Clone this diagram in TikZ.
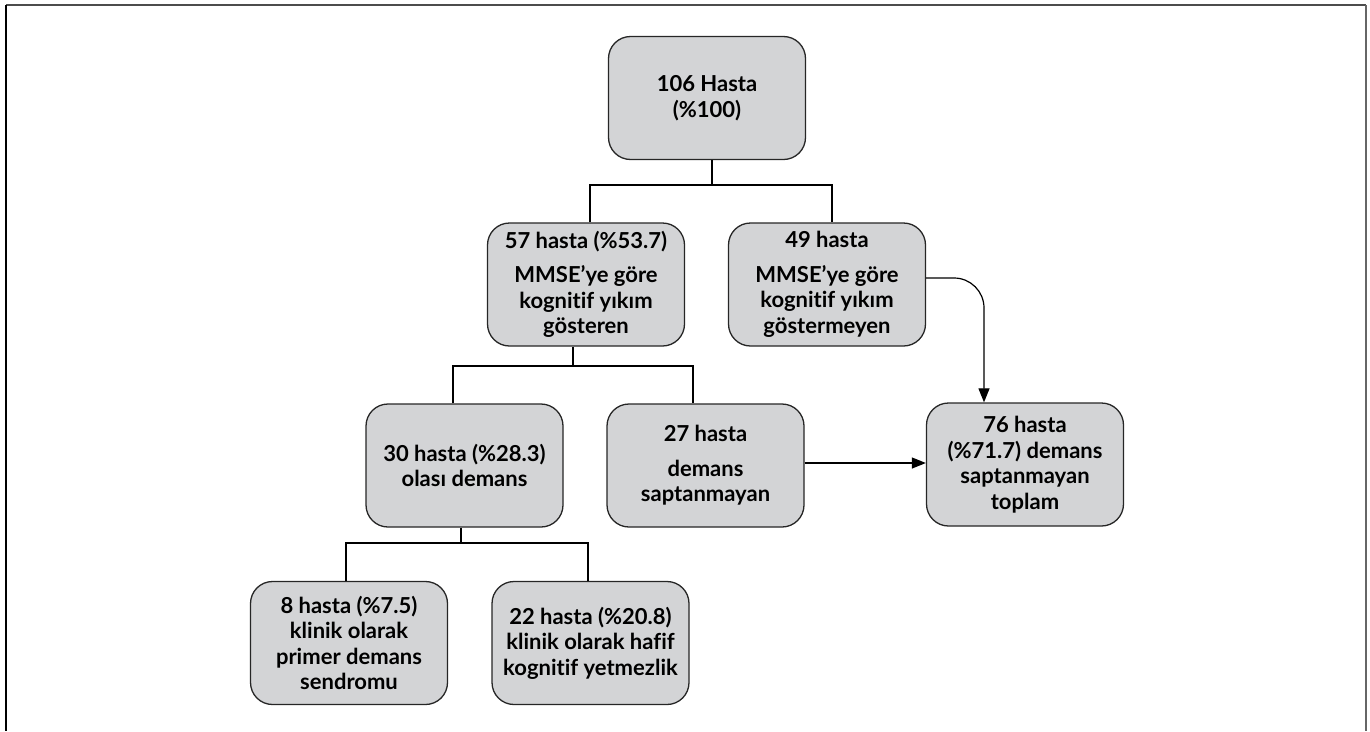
\documentclass[tikz,border=0pt]{standalone}
\usepackage{fontspec}
\setmainfont[Ligatures={NoCommon,NoContextual}]{Lato}
\usetikzlibrary{arrows.meta}
\definecolor{boxfill}{HTML}{D3D4D6}
\begin{document}
\begin{tikzpicture}[x=1pt,y=-1pt,
  box/.style={draw=black!85, line width=1.3pt, fill=boxfill, rounded corners=22pt,
    minimum width=197pt, minimum height=123pt, align=center, inner sep=0pt,
    font=\fontsize{22}{25.5}\selectfont\bfseries},
  tree/.style={line width=2.6pt, black},
  arr/.style={line width=1.2pt, black, -{Triangle[length=14pt,width=11pt]}},
  frame/.style={line width=2pt}]
\useasboundingbox (0,0) rectangle (1370,731);
\draw[frame, black!70] (6,5) -- (1366,5);
\draw[frame, black] (6,5) -- (6,731);
\draw[frame, black!60] (1366,5) -- (1366,731);

\node[box] (top) at (707,98) {106 Hasta\\(\%100)};
\node[box] (n57) at (586,284.5) {57 hasta (\%53.7)\\[9pt]MMSE’ye göre\\kognitif yıkım\\gösteren};
\node[box] (n49) at (827,284.5) {49 hasta\\[9pt]MMSE’ye göre\\kognitif yıkım\\göstermeyen};
\node[box] (n30) at (464.5,465.5) {30 hasta (\%28.3)\\olası demans};
\node[box] (n27) at (705.5,465.5) {27 hasta\\[9pt]demans\\saptanmayan};
\node[box] (n76) at (1025,464.5) {76 hasta\\(\%71.7) demans\\saptanmayan\\toplam};
\node[box] (n8) at (349,643) {8 hasta (\%7.5)\\klinik olarak\\primer demans\\sendromu};
\node[box] (n22) at (590.5,643) {22 hasta (\%20.8)\\klinik olarak hafif\\kognitif yetmezlik};

% tree connectors
\coordinate (j1) at (712,185);
\draw[tree] (top.south -| j1) -- (j1);
\draw[tree] (n57.north -| 590,0) |- (j1) -| (n49.north -| 832,0);
\coordinate (j2) at (573,366);
\draw[tree] (n57.south -| j2) -- (j2);
\draw[tree] (n30.north -| 453,0) |- (j2) -| (n27.north -| 693,0);
\coordinate (j3) at (461,543);
\draw[tree] (n30.south -| j3) -- (j3);
\draw[tree] (n8.north -| 346,0) |- (j3) -| (n22.north -| 588,0);

% arrows
\draw[arr] (n27.east |- 0,463) -- (n76.west |- 0,463);
\draw[arr, rounded corners=30pt] (n49.east |- 0,278) -| (n76.north -| 984,0);
\end{tikzpicture}
\end{document}
